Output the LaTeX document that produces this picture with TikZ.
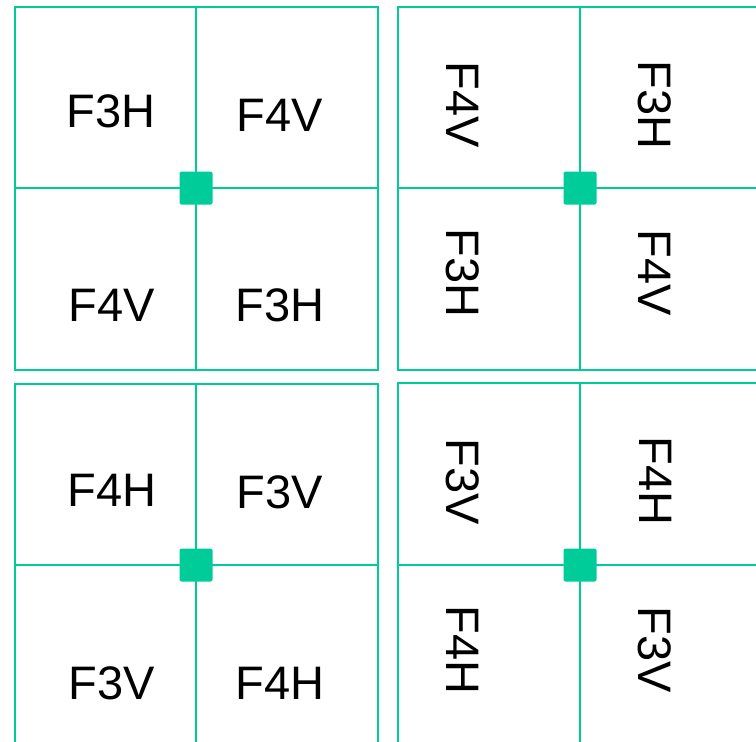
\documentclass[tikz,border=0pt]{standalone}
\usepackage{fontspec}
\setmainfont{Liberation Sans}
\definecolor{teal1}{RGB}{0,204,153}
\begin{document}
\begin{tikzpicture}[x=1bp,y=-1bp,
  grid/.style={draw=teal1,line width=2.4bp},
  hub/.style={fill=teal1,rounded corners=2bp},
  lbl/.style={inner sep=0pt,font=\fontsize{47bp}{56bp}\selectfont},
  vlbl/.style={lbl,rotate=-90}]
\useasboundingbox (0,0) rectangle (756,742);
\clip (0,0) rectangle (756,742);
% panels
\foreach \x/\y/\cx/\cy in {15/7/196/188, 398/7/580/188, 15/384/196/565, 398/383/580/565}{
  \draw[grid] (\x,\y) rectangle ++(363,363);
  \draw[grid] (\cx,\y) -- ++(0,363);
  \draw[grid] (\x,\cy) -- ++(363,0);
  \fill[hub] (\cx-16.5,\cy-16.5) rectangle ++(33,33);
}
% top-left panel
\node[lbl] (a1) at (111,111) {F3H};
\node[lbl] (a2) at (280,115) {F4V};
\node[lbl] (a3) at (112,305) {F4V};
\node[lbl] (a4) at (280,305) {F3H};
% top-right panel
\node[vlbl] (b1) at (463,105) {F4V};
\node[vlbl] (b2) at (655,105) {F3H};
\node[vlbl] (b3) at (463,273) {F3H};
\node[vlbl] (b4) at (655,273) {F4V};
% bottom-left panel
\node[lbl] (c1) at (112,490) {F4H};
\node[lbl] (c2) at (280,492) {F3V};
\node[lbl] (c3) at (112,683) {F3V};
\node[lbl] (c4) at (280,683) {F4H};
% bottom-right panel
\node[vlbl] (d1) at (463,482) {F3V};
\node[vlbl] (d2) at (656,481) {F4H};
\node[vlbl] (d3) at (463,650) {F4H};
\node[vlbl] (d4) at (655,650) {F3V};
\end{tikzpicture}
\end{document}
